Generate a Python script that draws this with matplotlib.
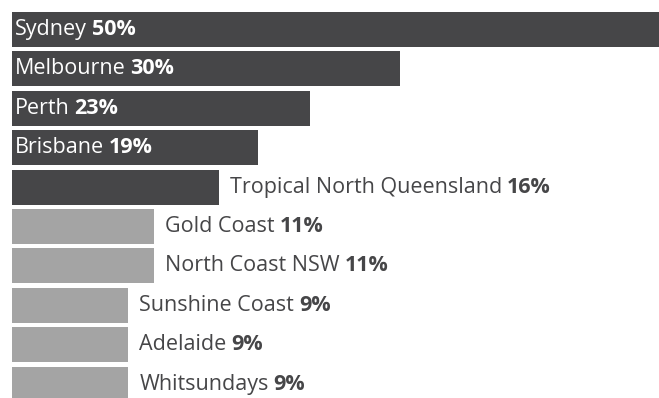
import matplotlib.pyplot as plt

# Destination share, largest first
places = ["Sydney", "Melbourne", "Perth", "Brisbane", "Tropical North Queensland",
          "Gold Coast", "North Coast NSW", "Sunshine Coast", "Adelaide", "Whitsundays"]
shares = [50, 30, 23, 19, 16, 11, 11, 9, 9, 9]
n_dark = 5          # top destinations in dark grey
n_inside = 4        # labels that sit inside their bar

DARK = "#464648"
LIGHT = "#a4a4a4"
TEXT = "#464648"
FONT = "Open Sans"
SIZE = 15.5

W, H, DPI = 659, 398, 100
fig = plt.figure(figsize=(W / DPI, H / DPI), dpi=DPI)
ax = fig.add_axes([0, 0, 1, 1])

px_per_unit = (W - 12) / max(shares)
pitch = 39.4
ax.set_xlim(-12 / px_per_unit, max(shares))
ax.set_ylim((H - 29.5) / pitch, -29.5 / pitch)
ax.axis("off")

for i, (name, val) in enumerate(zip(places, shares)):
    color = DARK if i < n_dark else LIGHT
    ax.barh(i, val, height=35 / pitch, left=0, color=color)

    if i < n_inside:
        x, col, off = 0, "white", 3
    else:
        x, col, off = val, TEXT, 11
    t1 = ax.annotate(name, xy=(x, i), xytext=(off * 72 / DPI, 0),
                     textcoords="offset points", ha="left", va="center",
                     color=col, fontsize=SIZE, family=FONT)
    ax.annotate(f"{val}%", xy=(1, 0), xycoords=t1, xytext=(3.5, 0),
                textcoords="offset points", ha="left", va="bottom",
                color=col, fontsize=SIZE, family=FONT, fontweight="bold")

fig.savefig("out.png", dpi=DPI)
